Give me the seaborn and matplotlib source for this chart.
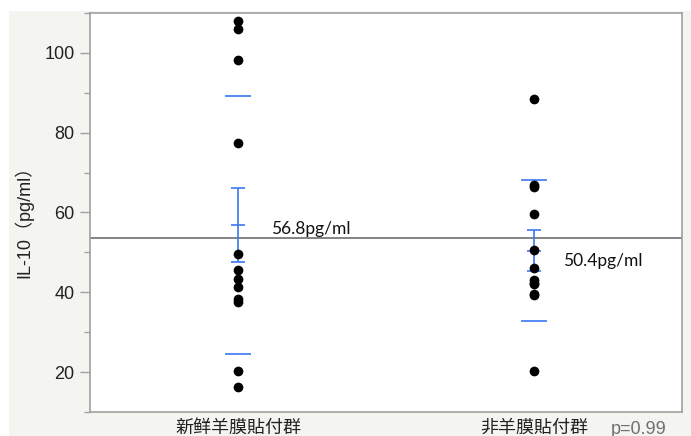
import numpy as np
import pandas as pd
import matplotlib
matplotlib.use("Agg")
import matplotlib.pyplot as plt
from matplotlib.patches import Rectangle
import seaborn as sns

# IL-10 measurements (pg/ml) per group
groups = ["新鲜羊膜貼付群", "非羊膜貼付群"]
fresh_amnion = [108.0, 106.0, 98.2, 77.3, 49.5, 45.5, 43.4, 41.3, 38.2, 37.6, 20.4, 16.2]
no_amnion = [88.5, 66.9, 66.5, 59.7, 50.5, 46.2, 43.1, 42.3, 42.0, 39.6, 39.2, 20.3]
p_value = 0.99
y_ticks = [20, 40, 60, 80, 100]
y_minor_ticks = [10, 30, 50, 70, 90, 110]

df = pd.DataFrame({
    "group": [groups[0]] * len(fresh_amnion) + [groups[1]] * len(no_amnion),
    "il10": fresh_amnion + no_amnion,
})

stats = df.groupby("group", sort=False)["il10"].agg(["mean", "std", "count"]).reindex(groups)
stats["se"] = stats["std"] / np.sqrt(stats["count"])
grand_mean = df["il10"].mean()

sns.set_theme(style="white")
plt.rcParams["font.family"] = ["Liberation Sans", "Noto Sans CJK JP"]

W, H = 691, 436
BLUE = "#3a78f0"
GRAY = "#a0a0a0"

fig = plt.figure(figsize=(W / 100, H / 100), dpi=100, facecolor="white")
fig.patches.append(Rectangle((9 / W, 0), 1 - 9 / W, 425 / H, transform=fig.transFigure,
                             facecolor="#f4f4f1", edgecolor="none", zorder=-1))
ax = fig.add_axes([90 / W, 24 / H, 592 / W, 399 / H])
ax.set_facecolor("white")

# overall mean reference line
ax.axhline(grand_mean, color="#7a7a7a", lw=1.3, zorder=1)

sns.stripplot(data=df, x="group", y="il10", order=groups, jitter=False,
              color="black", size=7, linewidth=0, ax=ax, zorder=3)

# mean +/- SD lines, mean +/- SE error bars
label_dx = [0.11, 0.097]
label_dy = [-1.0, -2.6]
for i, g in enumerate(groups):
    m, sd, se = stats.loc[g, "mean"], stats.loc[g, "std"], stats.loc[g, "se"]
    ax.hlines([m - sd, m + sd], i - 0.045, i + 0.045, color=BLUE, lw=1.2, zorder=2)
    ax.vlines(i, m - se, m + se, color=BLUE, lw=1.2, zorder=2)
    ax.hlines([m - se, m, m + se], i - 0.022, i + 0.022, color=BLUE, lw=1.2, zorder=2)
    ax.text(i + label_dx[i], m + label_dy[i], f"{m:.1f}pg/ml", fontsize=12.5,
            family=["Lato", "DejaVu Sans"], color="#111111", va="center", ha="left")

ax.set_xlim(-0.5, 1.5)
ax.set_ylim(10, 110)
ax.set_xticks([0, 1])
ax.set_xticklabels(groups, fontsize=13, family=["Noto Sans CJK JP"], color="#222222")
ax.set_xticks([-0.5, 0.5, 1.5], minor=True)
ax.tick_params(axis="x", which="major", length=0, pad=5)
ax.tick_params(axis="x", which="minor", length=8, width=1, color=GRAY, direction="out")

ax.set_yticks(y_ticks)
ax.set_yticklabels([str(t) for t in y_ticks], fontsize=13, color="#222222")
ax.set_yticks(y_minor_ticks, minor=True)
ax.tick_params(axis="y", which="major", length=7, width=1, color=GRAY, direction="out", pad=4, left=True)
ax.tick_params(axis="y", which="minor", length=4, width=1, color=GRAY, direction="out", left=True)
ax.set_xlabel("")
ax.set_ylabel("")

for side in ["left", "right", "top", "bottom"]:
    ax.spines[side].set_visible(True)
    ax.spines[side].set_color(GRAY)
    ax.spines[side].set_linewidth(1.2)

fig.text(24 / W, 1 - 217 / H, "IL-10（pg/ml）", rotation=90, ha="center", va="center",
         fontsize=13, color="#222222")
fig.text(611 / W, 1 - 429 / H, f"p={p_value:.2f}", ha="left", va="center",
         fontsize=13, color="#707070")

fig.savefig("out.png", dpi=100, facecolor=fig.get_facecolor())
